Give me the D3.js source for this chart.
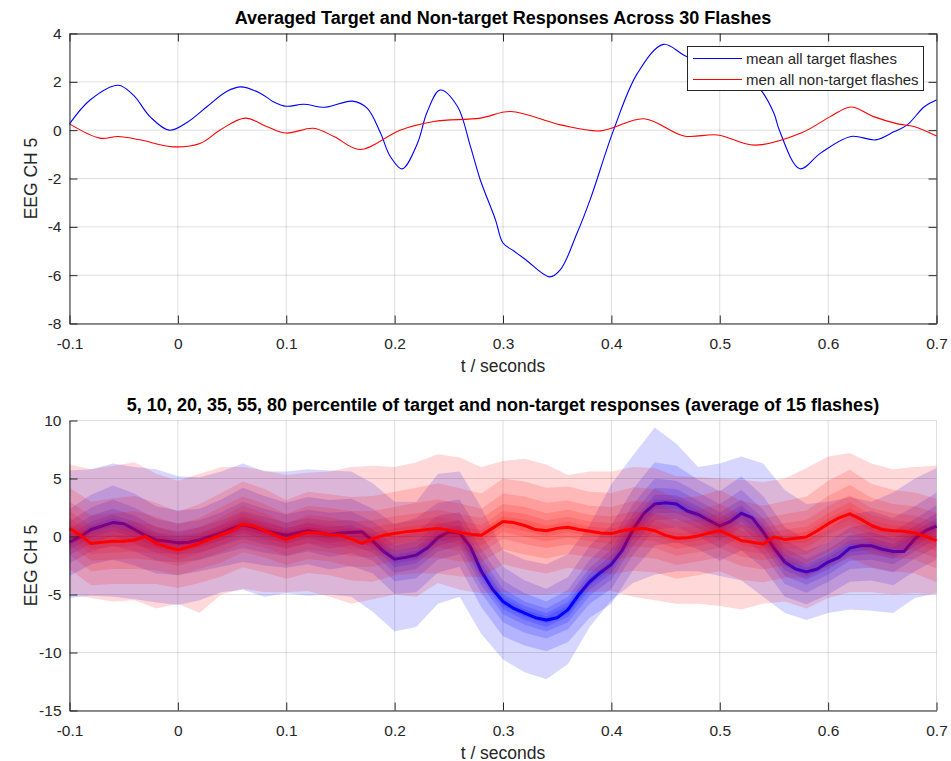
<!DOCTYPE html>
<head>
  <meta charset="utf-8">
  <title>Averaged Target and Non-target Responses</title>
<style>
html, body {
  margin: 0;
  padding: 0;
  background: #fff;
}
body {
  font-family: 'Liberation Sans', Arial, Helvetica, sans-serif;
}
.tick text {
  fill: #262626;
  font-family: 'Liberation Sans', Arial, Helvetica, sans-serif;
}
.tick line, .domain {
  stroke: #262626;
}
.grid line {
  stroke: #262626;
  stroke-opacity: 0.15;
}
.title {
  font-size: 18px;
  font-weight: bold;
  fill: #000;
}
.label {
  font-size: 17.5px;
  fill: #262626;
}
</style>
</head>
<body>
<svg width="951" height="761"></svg>
<script src="https://d3js.org/d3.v7.min.js"></script>
<script>
// ---- top panel: smooth averaged responses (t in s, value) ----
var tTargetMean = [-0.1,-0.081,-0.055,-0.041,-0.0255,-0.008,0.0084,0.027,0.045,0.058,0.076,0.088,0.1,0.116,0.136,0.161,0.1746,0.187,0.196,0.207,0.221,0.23,0.242,0.258,0.27,0.279,0.293,0.3,0.31,0.321,0.343,0.353,0.368,0.381,0.402,0.424,0.448,0.467,0.49,0.515,0.53,0.538,0.55,0.555,0.574,0.593,0.621,0.644,0.661,0.673,0.689,0.7];
var vTargetMean = [0.26,1.25,1.86,1.45,0.55,0.0,0.32,0.98,1.6,1.79,1.53,1.18,0.99,1.07,0.95,1.2,0.91,-0.12,-1.09,-1.6,-0.55,0.75,1.66,0.98,-0.68,-2.05,-3.7,-4.67,-5.0,-5.36,-6.07,-5.77,-4.3,-2.8,0.0,2.35,3.55,3.1,2.6,2.3,2.0,1.66,0.7,0.0,-1.6,-0.95,-0.26,-0.4,-0.06,0.22,0.98,1.25];

var tNonTargetMean = [-0.1,-0.072,-0.055,-0.035,-0.004,0.021,0.039,0.062,0.082,0.1,0.125,0.144,0.168,0.205,0.236,0.279,0.307,0.353,0.39,0.43,0.467,0.498,0.532,0.575,0.602,0.621,0.642,0.664,0.679,0.7];
var vNonTargetMean = [0.26,-0.33,-0.26,-0.4,-0.69,-0.54,0.01,0.5,0.15,-0.12,0.08,-0.26,-0.8,0.0,0.36,0.5,0.77,0.22,-0.03,0.47,-0.24,-0.2,-0.62,-0.12,0.56,0.96,0.56,0.26,0.15,-0.24];

var legendLabels = ["mean all target flashes", "men all non-target flashes"];

// ---- bottom panel: medians every 0.01 s from -0.1 to 0.7 ----
var medTarget = [-0.5,0.0,0.6,0.9,1.2,1.1,0.6,0.1,-0.3,-0.4,
  -0.55,-0.5,-0.3,0.0,0.3,0.7,1.0,0.8,0.5,0.3,
  0.1,0.3,0.5,0.35,0.15,0.3,0.35,0.4,-0.4,-1.3,
  -1.95,-1.8,-1.6,-1.0,-0.1,0.4,0.3,-0.9,-3.0,-4.5,
  -5.6,-6.2,-6.6,-7.0,-7.2,-7.0,-6.3,-5.0,-3.9,-3.1,
  -2.4,-1.2,0.6,2.0,2.8,2.9,2.8,2.2,1.9,1.4,
  0.9,1.3,2.0,1.6,0.4,-1.0,-2.2,-2.8,-3.05,-2.8,
  -2.2,-1.8,-1.0,-0.8,-0.8,-1.1,-1.3,-1.3,-0.2,0.5,
  0.9];
var medNonTarget = [0.7,0.1,-0.6,-0.5,-0.4,-0.4,-0.3,0.0,-0.6,-0.9,
  -1.15,-0.9,-0.6,-0.2,0.15,0.5,1.05,0.9,0.5,0.1,
  -0.25,0.1,0.35,0.3,0.15,0.1,-0.2,-0.6,-0.2,0.1,
  0.25,0.4,0.5,0.6,0.7,0.55,0.35,0.2,0.1,0.7,
  1.3,1.2,0.95,0.6,0.5,0.7,0.8,0.6,0.45,0.3,
  0.25,0.5,0.65,0.7,0.5,0.1,-0.15,-0.1,0.05,0.3,
  0.5,0.1,-0.35,-0.5,-0.65,-0.05,-0.25,-0.15,-0.05,0.5,
  1.1,1.6,1.95,1.5,0.95,0.6,0.5,0.45,0.3,0.0,
  -0.35];

// band edges every 0.02 s from -0.1 to 0.7 (outer 80% band)
var upTarget80 = [5.7,5.8,6.3,6.0,5.8,5.2,5.1,5.6,6.3,5.6, 5.6,5.8,5.7,5.6,4.6,3.0,3.0,5.4,5.6,2.5,
  -1.2,-2.0,-2.4,-1.5,1.0,4.5,7.0,9.4,8.0,6.0, 6.3,6.9,6.3,4.0,2.8,3.0,3.4,3.0,3.8,5.0, 5.9];
var loTarget80 = [-5.3,-5.1,-5.2,-5.4,-5.7,-5.9,-5.5,-4.8,-4.6,-5.2, -4.9,-5.1,-5.0,-5.2,-6.5,-8.2,-7.8,-5.8,-5.2,-8.4,
  -10.6,-11.7,-12.3,-11.0,-7.8,-5.5,-4.0,-3.3,-3.0,-3.0, -3.4,-3.8,-5.2,-6.6,-7.2,-6.6,-6.3,-6.4,-6.6,-5.3, -4.9];
var upNonTarget80 = [6.2,5.8,6.1,6.4,5.4,4.8,5.4,6.0,6.0,5.7, 5.3,5.5,5.6,6.0,6.1,6.0,6.4,7.1,6.8,6.0,
  6.5,6.7,6.2,5.3,5.6,5.6,6.0,5.9,5.2,5.1, 5.0,4.9,4.7,5.0,5.9,6.9,7.2,6.3,5.8,6.0, 6.1];
var loNonTarget80 = [-4.9,-5.3,-5.6,-5.5,-6.2,-5.8,-6.6,-5.0,-4.5,-4.8, -4.8,-4.7,-5.2,-5.8,-5.4,-5.0,-5.2,-4.0,-4.6,-4.9,
  -4.8,-5.0,-5.0,-4.8,-4.8,-4.7,-5.2,-5.5,-5.8,-5.8, -6.0,-6.3,-5.8,-5.6,-6.2,-5.3,-4.8,-4.8,-5.0,-4.9, -5.0];

// half widths of inner bands (55, 35, 20, 10, 5) around the median, every 0.02 s
var hw55Target = [2.9,3.0,3.2,3.1,2.9,2.8,2.7,2.9,3.2,3.0, 2.8,2.9,3.0,2.9,2.8,3.0,3.2,3.0,2.9,3.1,
  3.0,2.8,2.7,2.8,3.1,3.4,3.5,3.6,3.3,3.0, 3.0,3.2,3.1,3.0,2.8,2.8,2.9,3.0,2.9,2.8, 2.9];
var hw35Target = [1.8,1.9,2.0,1.9,1.8,1.7,1.7,1.8,2.0,1.9, 1.8,1.8,1.9,1.8,1.7,1.9,2.0,1.9,1.8,1.9,
  1.8,1.7,1.6,1.7,1.9,2.1,2.2,2.2,2.0,1.9, 1.9,2.0,1.9,1.9,1.8,1.7,1.8,1.9,1.8,1.7, 1.8];
var hw20Target = [1.1,1.2,1.2,1.2,1.1,1.0,1.1,1.1,1.2,1.2, 1.1,1.1,1.2,1.1,1.0,1.2,1.2,1.2,1.1,1.2,
  1.1,1.0,1.0,1.1,1.2,1.3,1.4,1.4,1.3,1.2, 1.2,1.2,1.2,1.2,1.1,1.1,1.1,1.2,1.1,1.1, 1.1];
var hw10Target = [0.65,0.7,0.7,0.7,0.65,0.6,0.6,0.65,0.7,0.7, 0.65,0.65,0.7,0.65,0.6,0.7,0.7,0.7,0.65,0.7,
  0.65,0.6,0.6,0.65,0.7,0.8,0.8,0.8,0.75,0.7, 0.7,0.7,0.7,0.7,0.65,0.65,0.65,0.7,0.65,0.65, 0.65];
var hw5Target = [0.35,0.35,0.4,0.35,0.35,0.3,0.3,0.35,0.4,0.35, 0.35,0.35,0.35,0.35,0.3,0.35,0.4,0.35,0.35,0.35,
  0.35,0.3,0.3,0.35,0.35,0.4,0.4,0.4,0.4,0.35, 0.35,0.35,0.35,0.35,0.35,0.35,0.35,0.35,0.35,0.35, 0.35];

var hw55NonTarget = [3.5,3.6,3.7,3.8,3.5,3.3,3.4,3.6,3.7,3.6, 3.4,3.5,3.5,3.6,3.7,3.6,3.7,3.9,3.8,3.6,
  3.7,3.8,3.7,3.5,3.4,3.5,3.6,3.6,3.5,3.4, 3.5,3.4,3.3,3.3,3.5,3.7,3.8,3.6,3.5,3.5, 3.6];
var hw35NonTarget = [2.3,2.4,2.4,2.5,2.3,2.2,2.2,2.4,2.4,2.3, 2.2,2.3,2.3,2.4,2.4,2.3,2.4,2.5,2.5,2.3,
  2.4,2.5,2.4,2.3,2.2,2.3,2.4,2.4,2.3,2.2, 2.3,2.2,2.2,2.2,2.3,2.4,2.5,2.4,2.3,2.3, 2.4];
var hw20NonTarget = [1.5,1.5,1.6,1.6,1.5,1.4,1.4,1.5,1.6,1.5, 1.4,1.5,1.5,1.5,1.6,1.5,1.5,1.6,1.6,1.5,
  1.5,1.6,1.5,1.5,1.4,1.5,1.5,1.5,1.5,1.4, 1.5,1.4,1.4,1.4,1.5,1.5,1.6,1.5,1.5,1.5, 1.5];
var hw10NonTarget = [0.9,0.9,1.0,1.0,0.9,0.85,0.85,0.9,1.0,0.9, 0.85,0.9,0.9,0.9,1.0,0.9,0.9,1.0,1.0,0.9,
  0.9,1.0,0.9,0.9,0.85,0.9,0.9,0.9,0.9,0.85, 0.9,0.85,0.85,0.85,0.9,0.9,1.0,0.9,0.9,0.9, 0.9];
var hw5NonTarget = [0.45,0.45,0.5,0.5,0.45,0.4,0.4,0.45,0.5,0.45, 0.4,0.45,0.45,0.45,0.5,0.45,0.45,0.5,0.5,0.45,
  0.45,0.5,0.45,0.45,0.4,0.45,0.45,0.45,0.45,0.4, 0.45,0.4,0.4,0.4,0.45,0.45,0.5,0.45,0.45,0.45, 0.45];

// ticks
var xTicks = [-0.1, 0, 0.1, 0.2, 0.3, 0.4, 0.5, 0.6, 0.7];
var yTicksTop = [-8, -6, -4, -2, 0, 2, 4];
var yTicksBottom = [-15, -10, -5, 0, 5, 10];

var svg = d3.select("svg");
svg.append("rect").attr("width", 951).attr("height", 761).attr("fill", "#fff");

var left = 69.5, right = 936.5;
var top1 = 33.5, bot1 = 323.5, top2 = 420.5, bot2 = 710.5;
var fmt = function(d) { return d === 0 ? "0" : String(d); };

var x = d3.scaleLinear().domain([-0.1, 0.7]).range([left, right]);
var y1 = d3.scaleLinear().domain([-8, 4]).range([bot1, top1]);
var y2 = d3.scaleLinear().domain([-15, 10]).range([bot2, top2]);

function grid(g, y, yt, top, bot) {
  g.attr("class", "grid");
  g.selectAll(".gx").data(xTicks).enter().append("line")
    .attr("x1", function(d) { return x(d); }).attr("x2", function(d) { return x(d); })
    .attr("y1", top).attr("y2", bot);
  g.selectAll(".gy").data(yt).enter().append("line")
    .attr("x1", left).attr("x2", right)
    .attr("y1", function(d) { return y(d); }).attr("y2", function(d) { return y(d); });
}

function axes(y, yt, top, bot, box) {
  svg.append("g").attr("transform", "translate(0," + bot + ")")
    .call(d3.axisBottom(x).tickValues(xTicks).tickFormat(fmt).tickSizeInner(-8).tickSizeOuter(0).tickPadding(14));
  svg.append("g").attr("transform", "translate(" + left + ",0)")
    .call(d3.axisLeft(y).tickValues(yt).tickFormat(fmt).tickSizeInner(-8).tickSizeOuter(0).tickPadding(8));
  if (box) {
    svg.append("g").attr("transform", "translate(0," + top + ")")
      .call(d3.axisTop(x).tickValues(xTicks).tickFormat("").tickSizeInner(-8).tickSizeOuter(0));
    svg.append("g").attr("transform", "translate(" + right + ",0)")
      .call(d3.axisRight(y).tickValues(yt).tickFormat("").tickSizeInner(-8).tickSizeOuter(0));
  }
  svg.selectAll(".tick text").attr("font-size", 15.5);
}

function labels(title, top, bot) {
  svg.append("text").attr("class", "title")
    .attr("x", (left + right) / 2).attr("y", top - 9.5)
    .attr("text-anchor", "middle").text(title);
  svg.append("text").attr("class", "label")
    .attr("x", (left + right) / 2).attr("y", bot + 48)
    .attr("text-anchor", "middle").text("t / seconds");
  svg.append("text").attr("class", "label")
    .attr("transform", "translate(36.5," + (top + bot) / 2 + ") rotate(-90)")
    .attr("text-anchor", "middle").text("EEG CH 5");
}

// ---------- top panel ----------
svg.append("g").call(grid, y1, yTicksTop, top1, bot1);

var line1 = d3.line().curve(d3.curveCatmullRom.alpha(0.5))
  .x(function(d) { return x(d[0]); }).y(function(d) { return y1(d[1]); });

svg.append("path")
  .datum(d3.zip(tTargetMean, vTargetMean))
  .attr("fill", "none").attr("stroke", "#0000ff").attr("stroke-width", 1.1)
  .attr("d", line1);
svg.append("path")
  .datum(d3.zip(tNonTargetMean, vNonTargetMean))
  .attr("fill", "none").attr("stroke", "#ff0000").attr("stroke-width", 1.1)
  .attr("d", line1);

axes(y1, yTicksTop, top1, bot1, true);
labels("Averaged Target and Non-target Responses Across 30 Flashes", top1, bot1);

var legend = svg.append("g");
legend.append("rect").attr("x", 687.5).attr("y", 46.5).attr("width", 236).attr("height", 44)
  .attr("fill", "#fff").attr("stroke", "#262626");
[["#0000ff", 58.5], ["#ff0000", 79.5]].forEach(function(e, i) {
  legend.append("line").attr("x1", 693).attr("x2", 742).attr("y1", e[1]).attr("y2", e[1])
    .attr("stroke", e[0]).attr("stroke-width", 1.1);
  legend.append("text").attr("x", 746).attr("y", e[1] + 5)
    .attr("font-size", 15).attr("fill", "#262626").text(legendLabels[i]);
});

// ---------- bottom panel ----------
var tMed = medTarget.map(function(d, i) { return -0.1 + i * 0.01; });
var tBand = upTarget80.map(function(d, i) { return -0.1 + i * 0.02; });

function bandsFor(med, up80, lo80, hws) {
  var out = [tBand.map(function(t, i) { return [t, lo80[i], up80[i]]; })];
  hws.forEach(function(hw) {
    out.push(tBand.map(function(t, i) { return [t, med[2 * i] - hw[i], med[2 * i] + hw[i]]; }));
  });
  return out;
}

var bandsTarget = bandsFor(medTarget, upTarget80, loTarget80,
  [hw55Target, hw35Target, hw20Target, hw10Target, hw5Target]);
var bandsNonTarget = bandsFor(medNonTarget, upNonTarget80, loNonTarget80,
  [hw55NonTarget, hw35NonTarget, hw20NonTarget, hw10NonTarget, hw5NonTarget]);

var area = d3.area()
  .x(function(d) { return x(d[0]); })
  .y0(function(d) { return y2(d[1]); })
  .y1(function(d) { return y2(d[2]); });

var line2 = d3.line().x(function(d) { return x(d[0]); }).y(function(d) { return y2(d[1]); });

svg.selectAll(".bandT").data(bandsTarget).enter().append("path")
  .attr("class", "bandT").attr("fill", "#0000ff").attr("fill-opacity", 0.16).attr("d", area);

// target median goes under the non-target patches
svg.append("path")
  .datum(d3.zip(tMed, medTarget))
  .attr("fill", "none").attr("stroke", "#0000ff")
  .attr("stroke-width", 3).attr("stroke-linejoin", "round")
  .attr("d", line2);

svg.selectAll(".bandN").data(bandsNonTarget).enter().append("path")
  .attr("class", "bandN").attr("fill", "#ff0000").attr("fill-opacity", 0.15).attr("d", area);

svg.append("g").call(grid, y2, yTicksBottom, top2, bot2);

svg.append("path")
  .datum(d3.zip(tMed, medNonTarget))
  .attr("fill", "none").attr("stroke", "#ff0000")
  .attr("stroke-width", 3).attr("stroke-linejoin", "round")
  .attr("d", line2);

axes(y2, yTicksBottom, top2, bot2, false);
labels("5, 10, 20, 35, 55, 80 percentile of target and non-target responses (average of 15 flashes)", top2, bot2);
</script>
</body>
